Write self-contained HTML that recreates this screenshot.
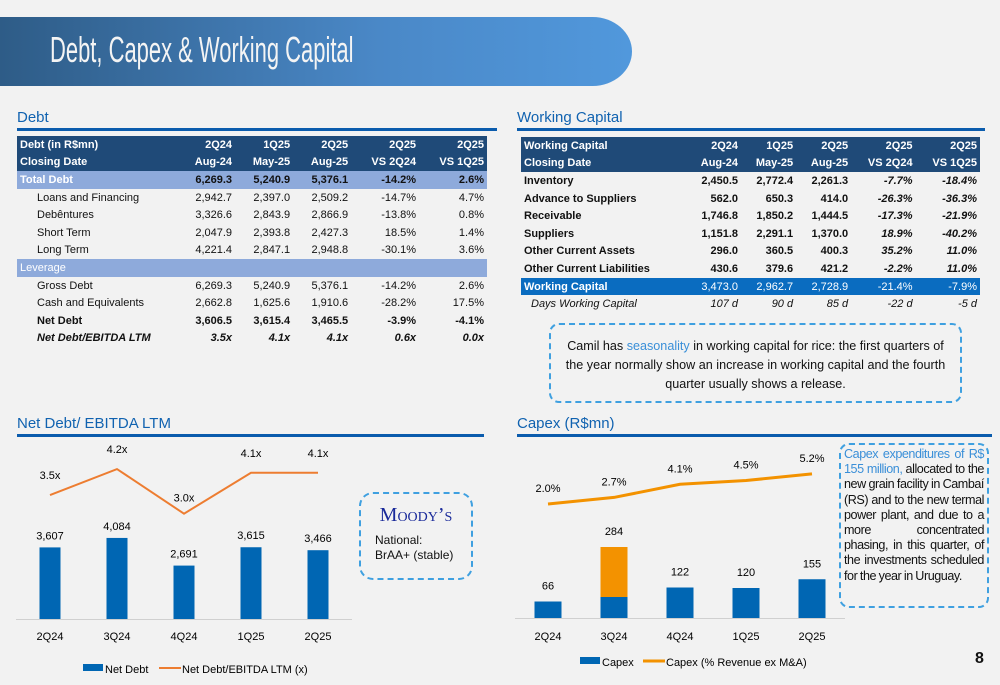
<!DOCTYPE html>
<html><head><meta charset="utf-8">
<style>
*{margin:0;padding:0;box-sizing:border-box}
body{width:1000px;height:685px;background:#f2f2f2;position:relative;overflow:hidden;font-family:"Liberation Sans",sans-serif;color:#111}
.hdr{position:absolute;left:0;top:17px;width:632px;height:69px;background:linear-gradient(90deg,#2e5c87,#4a88c7 60%,#5198dc);border-radius:0 40px 40px 0/0 35px 35px 0}
.hdr span{position:absolute;left:50px;top:12px;font-size:36px;color:#f4f4f4;transform:scaleX(0.61);transform-origin:left top;white-space:nowrap}
.sec{position:absolute;font-size:15px;color:#1062b0;border-bottom:3px solid #0b5cad;padding-bottom:2px}
table{position:absolute;border-collapse:collapse;font-size:11px}
td{height:17.6px;padding:0 3px;text-align:right;white-space:nowrap}
td:first-child{text-align:left}
.th td{background:#1f4a78;color:#fff;font-weight:bold}
.tot td{background:#8eaadb;font-weight:bold}
.tot td:first-child{color:#fff}
.ind td:first-child{padding-left:20px}
.b td{font-weight:bold}
.i td{font-style:italic}
.wc td{background:#0a6cc0;color:#fff}
.wc td:first-child{font-weight:bold}
.box{position:absolute;border:2px dashed #3fa0e0;border-radius:10px}
</style></head><body>
<div class="hdr"><span>Debt, Capex &amp; Working Capital</span></div>

<div class="sec" style="left:17px;top:109px;width:480px">Debt</div>
<table style="left:17px;top:136px;width:470px">
<colgroup><col style="width:160px"><col><col><col><col><col></colgroup>
<tr class="th"><td>Debt (in R$mn)</td><td>2Q24</td><td>1Q25</td><td>2Q25</td><td>2Q25</td><td>2Q25</td></tr>
<tr class="th"><td>Closing Date</td><td>Aug-24</td><td>May-25</td><td>Aug-25</td><td>VS 2Q24</td><td>VS 1Q25</td></tr>
<tr class="tot"><td>Total Debt</td><td>6,269.3</td><td>5,240.9</td><td>5,376.1</td><td>-14.2%</td><td>2.6%</td></tr>
<tr class="ind"><td>Loans and Financing</td><td>2,942.7</td><td>2,397.0</td><td>2,509.2</td><td>-14.7%</td><td>4.7%</td></tr>
<tr class="ind"><td>Debêntures</td><td>3,326.6</td><td>2,843.9</td><td>2,866.9</td><td>-13.8%</td><td>0.8%</td></tr>
<tr class="ind"><td>Short Term</td><td>2,047.9</td><td>2,393.8</td><td>2,427.3</td><td>18.5%</td><td>1.4%</td></tr>
<tr class="ind"><td>Long Term</td><td>4,221.4</td><td>2,847.1</td><td>2,948.8</td><td>-30.1%</td><td>3.6%</td></tr>
<tr class="tot"><td style="font-weight:normal">Leverage</td><td></td><td></td><td></td><td></td><td></td></tr>
<tr class="ind"><td>Gross Debt</td><td>6,269.3</td><td>5,240.9</td><td>5,376.1</td><td>-14.2%</td><td>2.6%</td></tr>
<tr class="ind"><td>Cash and Equivalents</td><td>2,662.8</td><td>1,625.6</td><td>1,910.6</td><td>-28.2%</td><td>17.5%</td></tr>
<tr class="ind b"><td>Net Debt</td><td>3,606.5</td><td>3,615.4</td><td>3,465.5</td><td>-3.9%</td><td>-4.1%</td></tr>
<tr class="ind b i"><td>Net Debt/EBITDA LTM</td><td>3.5x</td><td>4.1x</td><td>4.1x</td><td>0.6x</td><td>0.0x</td></tr>
</table>

<div class="sec" style="left:517px;top:109px;width:468px">Working Capital</div>
<table style="left:521px;top:137px;width:459px">
<colgroup><col style="width:165px"><col><col><col><col><col></colgroup>
<tr class="th"><td>Working Capital</td><td>2Q24</td><td>1Q25</td><td>2Q25</td><td>2Q25</td><td>2Q25</td></tr>
<tr class="th"><td>Closing Date</td><td>Aug-24</td><td>May-25</td><td>Aug-25</td><td>VS 2Q24</td><td>VS 1Q25</td></tr>
<tr class="b"><td>Inventory</td><td>2,450.5</td><td>2,772.4</td><td>2,261.3</td><td><i>-7.7%</i></td><td><i>-18.4%</i></td></tr>
<tr class="b"><td>Advance to Suppliers</td><td>562.0</td><td>650.3</td><td>414.0</td><td><i>-26.3%</i></td><td><i>-36.3%</i></td></tr>
<tr class="b"><td>Receivable</td><td>1,746.8</td><td>1,850.2</td><td>1,444.5</td><td><i>-17.3%</i></td><td><i>-21.9%</i></td></tr>
<tr class="b"><td>Suppliers</td><td>1,151.8</td><td>2,291.1</td><td>1,370.0</td><td><i>18.9%</i></td><td><i>-40.2%</i></td></tr>
<tr class="b"><td>Other Current Assets</td><td>296.0</td><td>360.5</td><td>400.3</td><td><i>35.2%</i></td><td><i>11.0%</i></td></tr>
<tr class="b"><td>Other Current Liabilities</td><td>430.6</td><td>379.6</td><td>421.2</td><td><i>-2.2%</i></td><td><i>11.0%</i></td></tr>
<tr class="wc"><td>Working Capital</td><td>3,473.0</td><td>2,962.7</td><td>2,728.9</td><td>-21.4%</td><td>-7.9%</td></tr>
<tr class="i"><td style="padding-left:10px">Days Working Capital</td><td>107 d</td><td>90 d</td><td>85 d</td><td>-22 d</td><td>-5 d</td></tr>
</table>

<div class="box" style="left:549px;top:323px;width:413px;height:80px;font-size:12.6px;text-align:center;padding:12px 6px 0;line-height:19px">Camil has <span style="color:#3a8fd8">seasonality</span> in working capital for rice: the first quarters of the year normally show an increase in working capital and the fourth quarter usually shows a release.</div>

<div class="sec" style="left:17px;top:415px;width:467px">Net Debt/ EBITDA LTM</div>
<div class="sec" style="left:517px;top:415px;width:475px">Capex (R$mn)</div>

<div class="box" style="left:359px;top:492px;width:114px;height:88px;border-radius:14px;padding:14px 0 0 14px;font-size:12px;line-height:15px">
<div style="font-family:'Liberation Serif',serif;color:#1a2a9a;font-size:20px;text-align:center;margin:0 0 10px -14px;font-variant:small-caps">Moody’s</div>National:<br>BrAA+ (stable)</div>

<div class="box" style="left:839px;top:443px;width:150px;height:165px;padding:2px 3px 0;font-size:12.6px;line-height:15.2px;text-align:justify;letter-spacing:-0.45px;word-spacing:-0.5px"><span style="color:#3a8fd8">Capex expenditures of R$ 155 million,</span> allocated to the new grain facility in Cambaí (RS) and to the new termal power plant, and due to a more concentrated phasing, in this quarter, of the investments scheduled for the year in Uruguay.</div>

<div style="position:absolute;left:975px;top:650px;font-size:16px;font-weight:bold">8</div>

<svg id="ch" width="1000" height="685" style="position:absolute;left:0;top:0" font-family="Liberation Sans, sans-serif" font-size="11"></svg>

<script>
const ndCats=["2Q24","3Q24","4Q24","1Q25","2Q25"];
const ndDebt=[3607,4084,2691,3615,3466];
const ndDebtLabels=["3,607","4,084","2,691","3,615","3,466"];
const ndRatio=[3.5,4.2,3.0,4.1,4.1];
const ndRatioLabels=["3.5x","4.2x","3.0x","4.1x","4.1x"];
const cxCats=["2Q24","3Q24","4Q24","1Q25","2Q25"];
const cxBase=[66,84,122,120,155];
const cxExtra=[0,200,0,0,0];
const cxTotalLabels=["66","284","122","120","155"];
const cxPct=[2.0,2.7,4.1,4.5,5.2];
const cxPctLabels=["2.0%","2.7%","4.1%","4.5%","5.2%"];

const svg=document.getElementById('ch');
const NS="http://www.w3.org/2000/svg";
function mk(t,a,txt){const e=document.createElementNS(NS,t);for(const k in a)e.setAttribute(k,a[k]);if(txt!=null)e.textContent=txt;svg.appendChild(e);return e;}

const ndX=i=>50+i*67, ndY=v=>619-v*0.01985, ndR=v=>513.7-(v-3.0)*37.2;
let e=mk('line',{x1:16,y1:619.5,x2:352,y2:619.5,stroke:'#d0d0d0','stroke-width':1});

ndDebt.forEach((v,i)=>{
  e=mk('rect',{x:ndX(i)-10.5,y:ndY(v),width:21,height:619-ndY(v),fill:'#0066b3'});
  
  e=mk('text',{x:ndX(i),y:ndY(v)-8,'text-anchor':'middle'},ndDebtLabels[i]);
  
  e=mk('text',{x:ndX(i),y:640,'text-anchor':'middle'},ndCats[i]);
  
});
e=mk('polyline',{points:ndRatio.map((v,i)=>ndX(i)+','+ndR(v)).join(' '),fill:'none',stroke:'#ed7d31','stroke-width':2});

ndRatio.forEach((v,i)=>{
  const dy=(i===2)?-12:-16;
  e=mk('text',{x:ndX(i),y:ndR(v)+dy,'text-anchor':'middle'},ndRatioLabels[i]);
  
});
e=mk('rect',{x:83,y:664,width:20,height:7,fill:'#0066b3'});

e=mk('text',{x:105,y:673},'Net Debt');

e=mk('line',{x1:159,y1:668,x2:181,y2:668,stroke:'#ed7d31','stroke-width':2});

e=mk('text',{x:182,y:673},'Net Debt/EBITDA LTM (x)');


const cxX=i=>548+i*66, cxY=v=>618-v*0.25, cxP=v=>504-(v-2.0)*9.4;
e=mk('line',{x1:515,y1:618.5,x2:845,y2:618.5,stroke:'#d0d0d0','stroke-width':1});

cxBase.forEach((v,i)=>{
  e=mk('rect',{x:cxX(i)-13.5,y:cxY(v),width:27,height:618-cxY(v),fill:'#0066b3'});
  
  if(cxExtra[i]>0){
    e=mk('rect',{x:cxX(i)-13.5,y:cxY(v+cxExtra[i]),width:27,height:cxY(v)-cxY(v+cxExtra[i]),fill:'#f39200'});
    
  }
  e=mk('text',{x:cxX(i),y:cxY(v+cxExtra[i])-12,'text-anchor':'middle'},cxTotalLabels[i]);
  
  e=mk('text',{x:cxX(i),y:640,'text-anchor':'middle'},cxCats[i]);
  
});
e=mk('polyline',{points:cxPct.map((v,i)=>cxX(i)+','+cxP(v)).join(' '),fill:'none',stroke:'#f39200','stroke-width':3});

cxPct.forEach((v,i)=>{
  e=mk('text',{x:cxX(i),y:cxP(v)-12,'text-anchor':'middle'},cxPctLabels[i]);
  
});
e=mk('rect',{x:580,y:657,width:20,height:7,fill:'#0066b3'});

e=mk('text',{x:602,y:666},'Capex');

e=mk('line',{x1:643,y1:661,x2:665,y2:661,stroke:'#f39200','stroke-width':3});

e=mk('text',{x:666,y:666},'Capex (% Revenue ex M&A)');

</script>
</body></html>
